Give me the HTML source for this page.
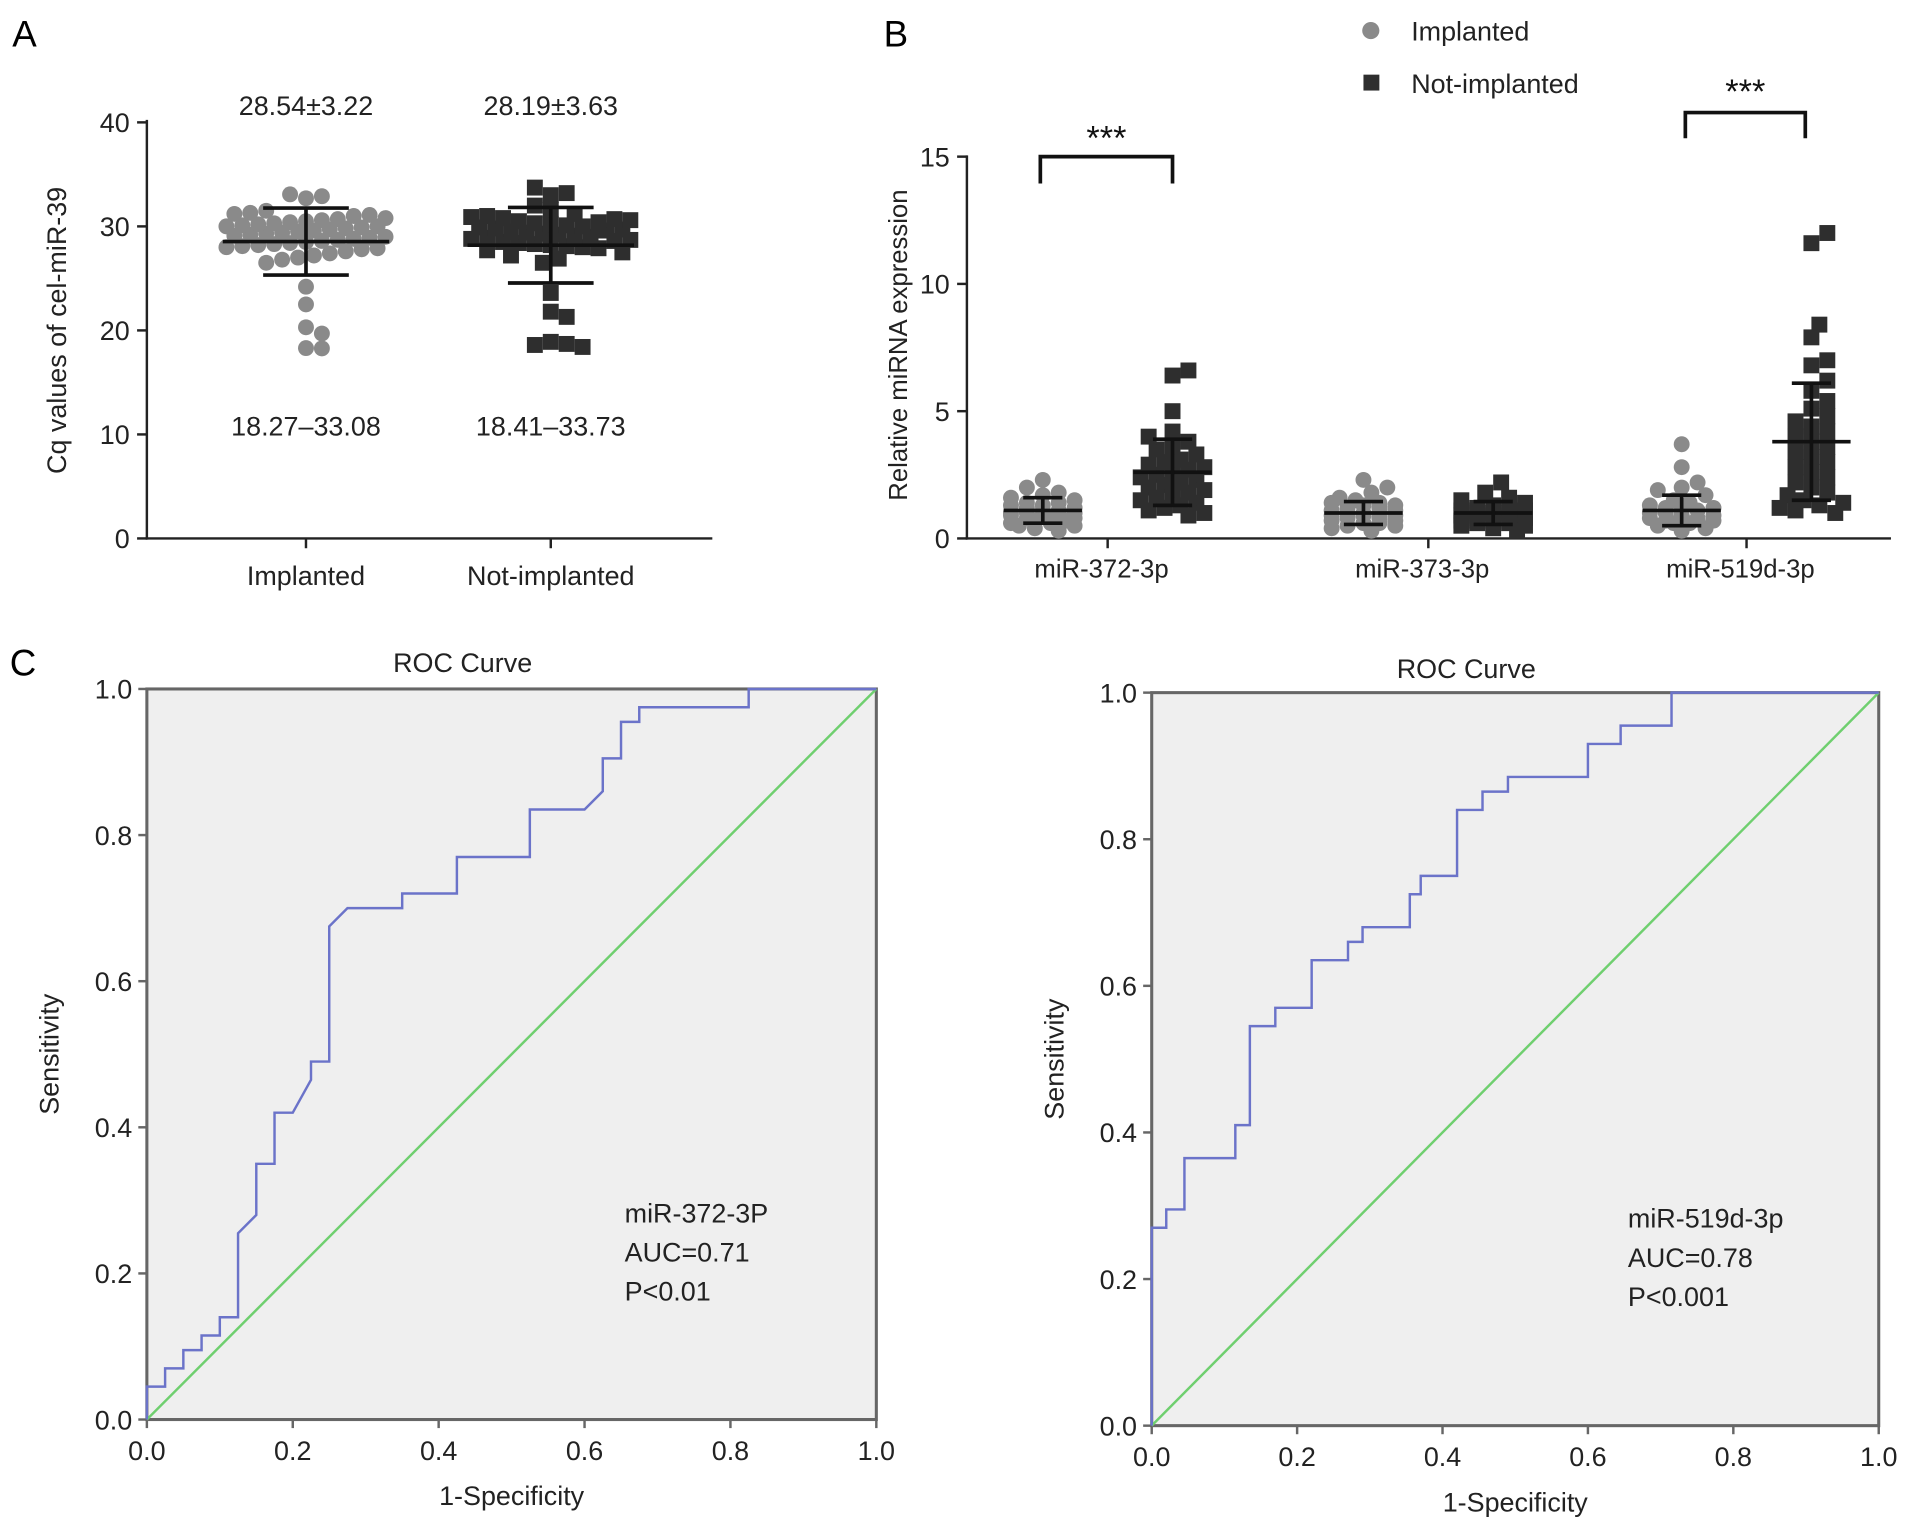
<!DOCTYPE html>
<html><head><meta charset="utf-8"><style>
html,body{margin:0;padding:0;background:#fff}
svg{display:block;font-family:"Liberation Sans",Arial,sans-serif}
</style></head><body>
<svg id="fig" width="1913" height="1526" viewBox="0 0 1563 1247" preserveAspectRatio="none">
<g id="pA"></g>
<g id="pB"></g>
<g id="pC1"></g>
<g id="pC2"></g>
</svg>
<script>
// ---- Panel A data ----
const aCats = ["Implanted","Not-implanted"];
const aImpl = [33.08,32.7,32.9,31.3,31.2,31.5,31.0,31.1,30.8,30.7,30.6,30.5,30.4,30.3,30.2,30.1,30.0,30.0,29.9,29.8,29.7,29.6,29.5,29.4,29.3,29.2,29.1,29.0,28.9,28.8,28.7,28.6,28.5,28.4,28.3,28.2,28.1,28.0,27.9,27.8,27.6,27.4,27.2,27.0,26.8,26.5,24.2,22.5,20.3,19.7,18.27,18.3];
const aNot = [33.73,33.2,33.0,32.0,31.6,31.2,31.0,30.9,30.8,30.7,30.6,30.5,30.4,30.3,30.2,30.1,30.0,29.9,29.8,29.7,29.6,29.5,29.4,29.3,29.2,29.1,29.0,28.9,28.8,28.7,28.6,28.5,28.4,28.3,28.2,28.1,28.0,27.9,27.7,27.5,27.2,26.9,26.5,23.6,21.8,21.3,18.9,18.6,18.41,18.7];
const aMean=[28.54,28.19], aSD=[3.22,3.63];
const aRange=["18.27\u201333.08","18.41\u201333.73"];
const aTicks=[0,10,20,30,40];
// ---- Panel B data ----
const bCats=["miR-372-3p","miR-373-3p","miR-519d-3p"];
const bImpl=[
 [2.3,2.0,1.8,1.7,1.6,1.5,1.4,1.4,1.3,1.3,1.2,1.2,1.1,1.1,1.0,1.0,1.0,0.9,0.9,0.9,0.8,0.8,0.8,0.7,0.7,0.6,0.6,0.5,0.5,0.4,0.3],
 [2.3,2.0,1.8,1.6,1.5,1.4,1.4,1.3,1.3,1.2,1.2,1.1,1.1,1.0,1.0,1.0,0.9,0.9,0.9,0.8,0.8,0.7,0.7,0.6,0.6,0.5,0.5,0.4,0.3],
 [3.7,2.8,2.2,2.0,1.9,1.7,1.5,1.4,1.3,1.2,1.2,1.1,1.1,1.0,1.0,0.9,0.9,0.8,0.8,0.7,0.7,0.6,0.6,0.5,0.4,0.3]];
const bNot=[
 [6.6,6.4,5.0,4.2,4.0,3.8,3.6,3.5,3.3,3.1,3.0,2.9,2.8,2.7,2.6,2.5,2.4,2.3,2.2,2.1,2.0,1.9,1.8,1.7,1.6,1.5,1.4,1.3,1.2,1.1,1.0,0.9],
 [2.2,1.8,1.6,1.5,1.4,1.3,1.2,1.2,1.1,1.1,1.0,1.0,1.0,0.9,0.9,0.9,0.8,0.8,0.8,0.7,0.7,0.6,0.6,0.5,0.5,0.4,0.3],
 [12.0,11.6,8.4,7.9,7.0,6.8,6.2,5.8,5.4,5.1,4.8,4.6,4.4,4.2,4.0,3.8,3.6,3.4,3.2,3.0,2.8,2.6,2.4,2.2,2.0,1.8,1.7,1.5,1.4,1.3,1.2,1.1,1.0]];
const bMeanImpl=[1.1,1.0,1.1], bSDImpl=[0.5,0.45,0.6];
const bMeanNot=[2.6,1.0,3.8], bSDNot=[1.3,0.45,2.3];
const bTicks=[0,5,10,15];
// ---- ROC data ----
const roc1Fpr=[0,0,0.025,0.025,0.05,0.05,0.075,0.075,0.1,0.1,0.125,0.125,0.15,0.15,0.175,0.175,0.2,0.225,0.225,0.25,0.25,0.275,0.35,0.35,0.425,0.425,0.525,0.525,0.6,0.625,0.625,0.65,0.65,0.675,0.675,0.825,0.825,1];
const roc1Tpr=[0,0.045,0.045,0.07,0.07,0.095,0.095,0.115,0.115,0.14,0.14,0.255,0.28,0.35,0.35,0.42,0.42,0.465,0.49,0.49,0.675,0.70,0.70,0.72,0.72,0.77,0.77,0.835,0.835,0.86,0.905,0.905,0.955,0.955,0.975,0.975,1,1];
const roc2Fpr=[0,0,0.02,0.02,0.045,0.045,0.115,0.115,0.135,0.135,0.17,0.17,0.22,0.22,0.27,0.27,0.29,0.29,0.355,0.355,0.37,0.37,0.42,0.42,0.455,0.455,0.49,0.49,0.6,0.6,0.645,0.645,0.715,0.715,1];
const roc2Tpr=[0,0.27,0.27,0.295,0.295,0.365,0.365,0.41,0.41,0.545,0.545,0.57,0.57,0.635,0.635,0.66,0.66,0.68,0.68,0.725,0.725,0.75,0.75,0.84,0.84,0.865,0.865,0.885,0.885,0.93,0.93,0.955,0.955,1,1];
const rocTicks=[0,0.2,0.4,0.6,0.8,1.0];

const NS="http://www.w3.org/2000/svg";
function mk(p,t,a,txt){const e=document.createElementNS(NS,t);for(const k in a)e.setAttribute(k,a[k]);if(txt!==undefined)e.textContent=txt;p.appendChild(e);return e;}
// bounded swarm: choose offset within maxW minimizing overlap
function swarm(vals,yf,cx,d,maxW){const placed=[];const out=[];const step=d*0.5;
 vals.forEach(v=>{const y=yf(v);let best=cx,bestScore=1e9;
  for(let k=0;;k++){const off=(k===0?0:(k%2?1:-1)*Math.ceil(k/2)*step);if(Math.abs(off)>maxW)break;
   const x=cx+off;let s=0;placed.forEach(p=>{const dd=Math.hypot(p[0]-x,p[1]-y);if(dd<d*0.9)s+=(d*0.9-dd);});
   s+=Math.abs(off)*0.01;
   if(s<bestScore){bestScore=s;best=x;}}
  placed.push([best,y]);out.push([best,y]);});return out;}
function errbar(g,cx,yf,m,sd,wm,ws,name){
 let e=mk(g,"line",{x1:cx-wm,x2:cx+wm,y1:yf(m),y2:yf(m),stroke:"#111","stroke-width":3});
 
 mk(g,"line",{x1:cx,x2:cx,y1:yf(m-sd),y2:yf(m+sd),stroke:"#111","stroke-width":3});
 mk(g,"line",{x1:cx-ws,x2:cx+ws,y1:yf(m-sd),y2:yf(m-sd),stroke:"#111","stroke-width":3});
 mk(g,"line",{x1:cx-ws,x2:cx+ws,y1:yf(m+sd),y2:yf(m+sd),stroke:"#111","stroke-width":3});}

// Panel A
(function(){const g=document.getElementById("pA");
 const y=v=>440-v*8.5;const xs=[250,450];
 mk(g,"text",{x:10,y:38,"font-size":30},"A");
 mk(g,"line",{x1:120,x2:120,y1:98,y2:441,stroke:"#222","stroke-width":2});
 mk(g,"line",{x1:119,x2:582,y1:440,y2:440,stroke:"#222","stroke-width":2});
 aTicks.forEach(t=>{mk(g,"line",{x1:112,x2:120,y1:y(t),y2:y(t),stroke:"#222","stroke-width":2});
  const e=mk(g,"text",{x:106,y:y(t)+8,"font-size":22,"text-anchor":"end",fill:"#222"},t);});
 const yt=mk(g,"text",{transform:"translate(54,270) rotate(-90)","font-size":22,"text-anchor":"middle",fill:"#222"},"Cq values of cel-miR-39");
 
 [aImpl,aNot].forEach((vals,i)=>{
  mk(g,"line",{x1:xs[i],x2:xs[i],y1:440,y2:448,stroke:"#222","stroke-width":2});
  const l=mk(g,"text",{x:xs[i],y:478,"font-size":22,"text-anchor":"middle",fill:"#222"},aCats[i]);
  
  mk(g,"text",{x:xs[i],y:94,"font-size":22,"text-anchor":"middle",fill:"#222"},aMean[i].toFixed(2)+"\u00b1"+aSD[i].toFixed(2));
  mk(g,"text",{x:xs[i],y:356,"font-size":22,"text-anchor":"middle",fill:"#222"},aRange[i]);
  swarm([...vals].sort((a,b)=>Math.abs(a-aMean[i])-Math.abs(b-aMean[i])),y,xs[i],13,66).forEach(p=>{
   let e;if(i===0)e=mk(g,"circle",{cx:p[0],cy:p[1],r:6.5,fill:"#8a8a8a"});
   else e=mk(g,"rect",{x:p[0]-6.5,y:p[1]-6.5,width:13,height:13,fill:"#2e2e2e"});
   });
  errbar(g,xs[i],y,aMean[i],aSD[i],68,35,'a-'+i);});
})();

// Panel B
(function(){const g=document.getElementById("pB");
 const y=v=>440-v*20.8;const cen=[905,1167,1427];
 mk(g,"text",{x:722,y:38,"font-size":30},"B");
 mk(g,"line",{x1:790,x2:790,y1:127,y2:441,stroke:"#222","stroke-width":2});
 mk(g,"line",{x1:789,x2:1545,y1:440,y2:440,stroke:"#222","stroke-width":2});
 bTicks.forEach(t=>{mk(g,"line",{x1:782,x2:790,y1:y(t),y2:y(t),stroke:"#222","stroke-width":2});
  const e=mk(g,"text",{x:776,y:y(t)+8,"font-size":22,"text-anchor":"end",fill:"#222"},t);});
 const yt=mk(g,"text",{transform:"translate(741,282) rotate(-90)","font-size":21,"text-anchor":"middle",fill:"#222"},"Relative miRNA expression");
 
 let e=mk(g,"circle",{cx:1120,cy:25,r:7,fill:"#8a8a8a"});
 mk(g,"text",{x:1153,y:33,"font-size":22,fill:"#222"},"Implanted");
 e=mk(g,"rect",{x:1114,y:61,width:13,height:13,fill:"#2e2e2e"});
 mk(g,"text",{x:1153,y:76,"font-size":22,fill:"#222"},"Not-implanted");
 cen.forEach((c,i)=>{
  mk(g,"line",{x1:c,x2:c,y1:440,y2:448,stroke:"#222","stroke-width":2});
  const l=mk(g,"text",{x:c-5,y:472,"font-size":21,"text-anchor":"middle",fill:"#222"},bCats[i]);
  
  const xi=c-53,xn=c+53;
  swarm([...bImpl[i]].sort((a,b)=>Math.abs(a-bMeanImpl[i])-Math.abs(b-bMeanImpl[i])),y,xi,13,26).forEach(p=>{
   const e=mk(g,"circle",{cx:p[0],cy:p[1],r:6.5,fill:"#8a8a8a"});});
  errbar(g,xi,y,bMeanImpl[i],bSDImpl[i],32,16,'b-impl-'+i);
  swarm([...bNot[i]].sort((a,b)=>Math.abs(a-bMeanNot[i])-Math.abs(b-bMeanNot[i])),y,xn,13,28).forEach(p=>{
   const e=mk(g,"rect",{x:p[0]-6.5,y:p[1]-6.5,width:13,height:13,fill:"#2e2e2e"});});
  errbar(g,xn,y,bMeanNot[i],bSDNot[i],32,16,'b-not-'+i);
 });
 [[850,958,128,150,904,112],[1377,1475,92,113,1426,74]].forEach(b=>{
  const e=mk(g,"path",{d:`M${b[0]},${b[3]}V${b[2]}H${b[1]}V${b[3]}`,fill:"none",stroke:"#111","stroke-width":3});
  
  mk(g,"text",{x:b[4],y:b[5]+10,"font-size":28,"text-anchor":"middle",fill:"#111"},"***");});
})();

// ROC
function roc(id,x0,x1,y0,y1,fpr,tpr,lbl,title,ty,showC){
 const g=document.getElementById(id);
 const X=v=>x0+v*(x1-x0), Y=v=>y0-v*(y0-y1);
 if(showC)mk(g,"text",{x:8,y:552,"font-size":30},"C");
 mk(g,"rect",{x:x0,y:y1,width:x1-x0,height:y0-y1,fill:"#efefef",stroke:"#666","stroke-width":2.5});
 const t=mk(g,"text",{x:(x0+x1)/2-40,y:ty,"font-size":22,"text-anchor":"middle",fill:"#222"},title);
 
 rocTicks.forEach(v=>{
  mk(g,"line",{x1:X(v),x2:X(v),y1:y0,y2:y0+7,stroke:"#666","stroke-width":2});
  mk(g,"line",{x1:x0-7,x2:x0,y1:Y(v),y2:Y(v),stroke:"#666","stroke-width":2});
  let e=mk(g,"text",{x:X(v),y:y0+33,"font-size":22,"text-anchor":"middle",fill:"#222"},v.toFixed(1));
  e=mk(g,"text",{x:x0-12,y:Y(v)+8,"font-size":22,"text-anchor":"end",fill:"#222"},v.toFixed(1));});
 let e=mk(g,"text",{x:(x0+x1)/2,y:y0+70,"font-size":22,"text-anchor":"middle",fill:"#222"},"1-Specificity");
 
 e=mk(g,"text",{transform:`translate(${x0-72},${(y0+y1)/2}) rotate(-90)`,"font-size":22,"text-anchor":"middle",fill:"#222"},"Sensitivity");
 
 e=mk(g,"line",{x1:X(0),y1:Y(0),x2:X(1),y2:Y(1),stroke:"#6fcf6f","stroke-width":2});
 
 e=mk(g,"path",{d:fpr.map((f,i)=>(i?"L":"M")+X(f)+","+Y(tpr[i])).join(""),fill:"none",stroke:"#6b73c9","stroke-width":2});
 
 lbl.forEach((s,i)=>mk(g,"text",{x:X(0.655),y:Y(0.27)+i*32,"font-size":22,fill:"#222"},s));
}
roc("pC1",120,716,1160,563,roc1Fpr,roc1Tpr,["miR-372-3P","AUC=0.71","P<0.01"],"ROC Curve",549,true);
roc("pC2",941,1535,1165,566,roc2Fpr,roc2Tpr,["miR-519d-3p","AUC=0.78","P<0.001"],"ROC Curve",554,false);
</script>
</body></html>
